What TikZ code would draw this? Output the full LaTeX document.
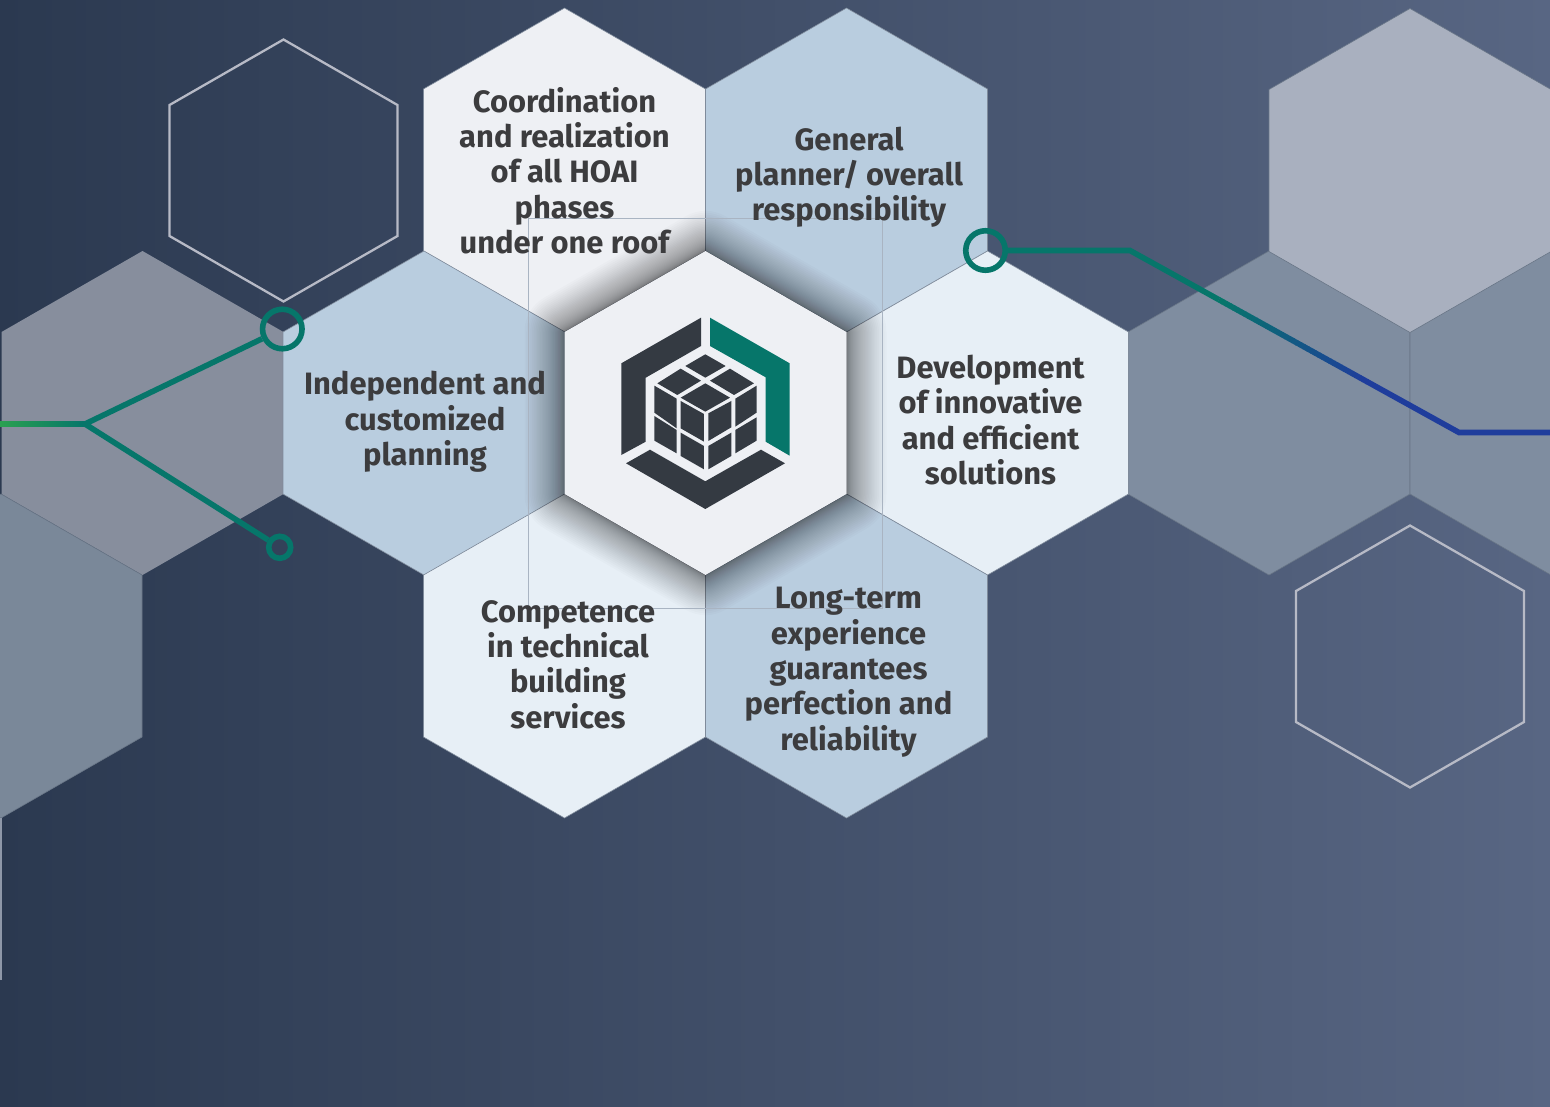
\documentclass[tikz,border=0pt]{standalone}
\usepackage{fontspec}
\setmainfont{Fira Sans}[BoldFont={Fira Sans Bold}]
\usetikzlibrary{calc}
\definecolor{hexwhite}{HTML}{EEF0F4}
\definecolor{hexblue}{HTML}{B9CDDF}
\definecolor{hexlight}{HTML}{E7EFF6}
\definecolor{hexgrey}{HTML}{878E9D}
\definecolor{hexslate}{HTML}{7F8DA0}
\definecolor{hexslateb}{HTML}{7A8899}
\definecolor{hexpale}{HTML}{A9B0BF}
\definecolor{edgeline}{HTML}{7F8B9B}
\definecolor{edgedark}{HTML}{697687}
\definecolor{ghost}{HTML}{B7BAC6}
\definecolor{guide}{HTML}{A9B4C2}
\definecolor{logodark}{HTML}{343A42}
\definecolor{tealc}{HTML}{06766A}
\definecolor{brightg}{HTML}{2AA050}
\definecolor{navyb}{HTML}{1F3D9C}
\definecolor{labeltext}{HTML}{3C3C3E}
\definecolor{bgleft}{HTML}{2B3950}
\definecolor{bgright}{HTML}{586683}
\definecolor{sliver}{HTML}{8E97A8}
\newcommand{\hexpath}[3]{($(#1,#2)+(0,-#3*1.1489)$) -- ++(#3,#3*0.5745) -- ++(0,#3*1.1489) -- ++(-#3,#3*0.5745) -- ++(-#3,-#3*0.5745) -- ++(0,-#3*1.1489) -- cycle}
\tikzset{
  hexfill/.style={fill=#1,draw=edgeline,line width=0.6pt,line join=miter},
  ghosthex/.style={draw=ghost,line width=2.3pt,line join=miter},
  label/.style={text=labeltext,align=center,inner sep=0pt,font=\bfseries\fontsize{30.9}{35.3}\selectfont},
  ringnode/.style={circle,draw=tealc,line width=5.6pt,inner sep=0pt,fill=none},
  wire/.style={draw=tealc,line width=5.6pt,line join=miter},
  logoface/.style={fill=logodark,draw=none},
  logoteal/.style={fill=tealc,draw=none},
  guideline/.style={draw=guide,line width=0.7pt}
}
\begin{document}
\begin{tikzpicture}[x=1pt,y=-1pt]
\useasboundingbox (0,0) rectangle (1550,1106);
\fill[left color=bgleft,right color=bgright] (0,0) rectangle (1550,1106);
\clip (0,0) rectangle (1550,1106);
% outer hexes
\path[hexfill=hexslate,draw=edgedark] \hexpath{1269}{413}{141};
\path[hexfill=hexslate,draw=edgedark] \hexpath{1551}{413}{141};
\path[hexfill=hexpale,draw=edgedark] \hexpath{1410}{170.5}{141};
\path[hexfill=hexgrey,draw=none] \hexpath{142.5}{413}{141};
\path[hexfill=hexslateb,draw=edgedark] \hexpath{1}{656}{141};
\path[ghosthex] \hexpath{283.5}{170.5}{114};
\path[ghosthex] \hexpath{1410}{656.5}{114};
\fill[sliver] (0,818) rectangle (2,980);
% surrounding hexes
\path[hexfill=hexwhite] \hexpath{564.5}{170}{141};
\path[hexfill=hexblue] \hexpath{846.5}{170}{141};
\path[hexfill=hexblue] \hexpath{424}{413}{141};
\path[hexfill=hexlight] \hexpath{987.5}{413}{141};
\path[hexfill=hexlight] \hexpath{564.5}{656}{141};
\path[hexfill=hexblue] \hexpath{846.5}{656}{141};
% shadow
\foreach \w in {1,...,40}{
  \draw[black,opacity=0.017,line width=\w*\w*0.05pt,line join=round] \hexpath{705.5}{413}{141};
}
% guide rectangle
\draw[guideline] (528.5,218.5) rectangle (882.5,608.5);
% centre
\path[fill=hexwhite] \hexpath{705.5}{413}{141};
% logo
\fill[logoface] (701,317.7) -- (701,346) -- (645.7,377.7) -- (645.7,441.7) -- (621.3,455) -- (621.3,363.3) -- cycle;
\fill[logoteal] (710,317.7) -- (789.7,363.3) -- (789.7,455.7) -- (765.7,441.7) -- (765.7,377.3) -- (710,346) -- cycle;
\fill[logoface] (626,463.3) -- (650,449.7) -- (705.3,481.3) -- (761,449.7) -- (785,463.3) -- (705.3,509) -- cycle;
\begin{scope}[shift={(560,240)},x=0.3333pt,y=-0.3333pt]
\fill[logoface] (376,378) -- (436,343) -- (497,378) -- (436,413) -- cycle;
\fill[logoface] (292,430) -- (362,386) -- (423,422) -- (352,465) -- cycle;
\fill[logoface] (450,422) -- (510,386) -- (582,430) -- (522,465) -- cycle;
\fill[logoface] (362,473) -- (436,430) -- (510,473) -- (436,515) -- cycle;
\fill[logoface] (283,437) -- (350,476) -- (350,565) -- (283,518) -- cycle;
\fill[logoface] (362,483) -- (432,522) -- (432,605) -- (362,565) -- cycle;
\fill[logoface] (283,528) -- (350,570) -- (350,640) -- (283,602) -- cycle;
\fill[logoface] (362,578) -- (432,618) -- (432,688) -- (362,648) -- cycle;
\fill[logoface] (445,520) -- (514,483) -- (514,562) -- (445,603) -- cycle;
\fill[logoface] (526,476) -- (590,437) -- (590,518) -- (526,560) -- cycle;
\fill[logoface] (445,618) -- (514,578) -- (514,648) -- (445,688) -- cycle;
\fill[logoface] (526,570) -- (590,532) -- (590,602) -- (526,640) -- cycle;
\end{scope}
% labels
\node[label] (coord) at (564.5,170.5) {Coordination\\and realization\\of all HOAI\\phases\\under one roof};
\node[label] (general) at (849,177) {General\\planner/ overall\\responsibility};
\node[label] (indep) at (425,421.8) {Independent and\\customized\\planning};
\node[label] (devel) at (990.5,420) {Development\\of innovative\\and efficient\\solutions};
\node[label] (compet) at (568,664.5) {Competence\\in technical\\building\\services};
\node[label] (longt) at (848.5,672.3) {Long-term\\experience\\guarantees\\perfection and\\reliability};
% connectors left
\node[ringnode,minimum size=39.5pt] (ringA) at (282.3,329) {};
\node[ringnode,minimum size=22pt] (ringC) at (279.7,547.3) {};
\coordinate (junction) at (85,424);
\coordinate (leftend) at (0,424);
\fill[left color=brightg,right color=tealc,draw=none] (0,421.2) rectangle (85,426.8);
\draw[wire] (ringA) -- (junction) -- (ringC);
% connector right
\node[ringnode,minimum size=39.5pt] (ringB) at (985.5,250.5) {};
\coordinate (bendA) at (1130,250.5);
\coordinate (bendB) at (1459,432.5);
\coordinate (rightend) at (1550,432.5);
\coordinate (gradA) at ($(bendA)!0.27!(bendB)$);
\coordinate (gradB) at ($(bendA)!0.72!(bendB)$);
\draw[wire] (ringB.east) -- (bendA) -- (gradA);
\foreach \i in {0,...,39}{
  \pgfmathsetmacro{\mixv}{100-\i*100/39}
  \pgfmathsetmacro{\endv}{(\i+1.15)/40}
  \colorlet{segc}{tealc!\mixv!navyb}
  \draw[segc,line width=5.6pt] ($(gradA)!\i/40!(gradB)$) -- ($(gradA)!\endv!(gradB)$);
}
\draw[wire,draw=navyb] (gradB) -- (bendB) -- (rightend);
\end{tikzpicture}
\end{document}
